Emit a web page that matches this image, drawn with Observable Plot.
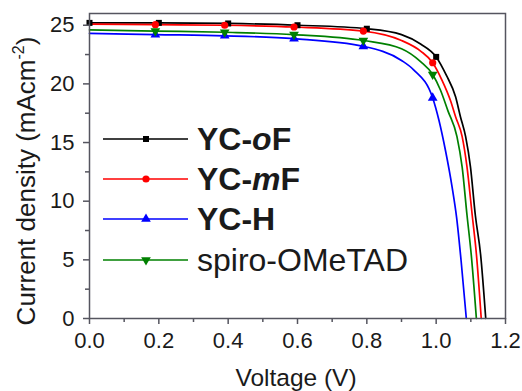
<!DOCTYPE html>
<html><head><meta charset="utf-8">
<script src="https://cdn.jsdelivr.net/npm/d3@7"></script>
<script src="https://cdn.jsdelivr.net/npm/@observablehq/plot@0.6"></script>
<style>body{margin:0;background:#fff} #chart{width:522px;height:391px}</style>
</head><body><div id="chart"></div>
<script>
// ---- data ----
const seriesNames = ["YC-oF", "YC-mF", "YC-H", "spiro-OMeTAD"];
const seriesColors = ["#000000", "#ff0000", "#0000ff", "#008000"];

const vOF = [0, 0.2, 0.4, 0.6, 0.8, 0.9, 0.955, 1.0, 1.03, 1.056, 1.07, 1.085, 1.099, 1.113, 1.128, 1.143];
const jOF = [25.2, 25.2, 25.15, 25.0, 24.7, 24.2, 23.4, 22.3, 20.7, 18.9, 17.2, 15.5, 12.9, 8.8, 5.5, 0];
const markOF = [0, 0.2, 0.4, 0.6, 0.8, 1.0];

const vMF = [0, 0.19, 0.39, 0.59, 0.79, 0.9, 0.955, 0.99, 1.017, 1.041, 1.056, 1.075, 1.089, 1.104, 1.116, 1.13];
const jMF = [25.1, 25.05, 25.0, 24.85, 24.5, 23.7, 22.8, 21.8, 20.3, 18.6, 17.2, 15.5, 12.9, 8.8, 5.5, 0];
const markMF = [0.19, 0.39, 0.59, 0.79, 0.99];

const vH = [0, 0.19, 0.39, 0.59, 0.79, 0.9, 0.935, 0.99, 1.008, 1.027, 1.046, 1.059, 1.072, 1.087];
const jH = [24.3, 24.2, 24.1, 23.85, 23.2, 22.0, 21.2, 18.8, 16.9, 14.3, 11.2, 8.6, 4.9, 0];
const markH = [0.19, 0.39, 0.59, 0.79, 0.99];

const vSpiro = [0, 0.19, 0.39, 0.59, 0.79, 0.9, 0.955, 0.99, 1.012, 1.034, 1.06, 1.075, 1.089, 1.101, 1.116];
const jSpiro = [24.6, 24.5, 24.4, 24.2, 23.7, 23.0, 21.9, 20.8, 19.5, 17.7, 15.5, 12.9, 8.8, 5.5, 0];
const markSpiro = [0.19, 0.39, 0.59, 0.79, 0.99];

const xTicks = [0, 0.2, 0.4, 0.6, 0.8, 1.0, 1.2];
const xMinorTicks = [0.1, 0.3, 0.5, 0.7, 0.9, 1.1];
const yTicks = [0, 5, 10, 15, 20, 25];
const yMinorTicks = [2.5, 7.5, 12.5, 17.5, 22.5];

// ---- build tables ----
const triangleDown = {
  draw(context, size) {
    const y = Math.sqrt(size / (Math.sqrt(3) * 3));
    context.moveTo(0, y * 2);
    context.lineTo(-Math.sqrt(3) * y, -y);
    context.lineTo(Math.sqrt(3) * y, -y);
    context.closePath();
  }
};
const symbols = ["square", "circle", "triangle", triangleDown];
const vs = [vOF, vMF, vH, vSpiro];
const js = [jOF, jMF, jH, jSpiro];
const marks = [markOF, markMF, markH, markSpiro];

const curves = seriesNames.map((name, k) => vs[k].map((v, i) => ({series: name, v, j: js[k][i]})));
const points = seriesNames.map((name, k) => curves[k].filter(d => marks[k].includes(d.v)));

const axisColor = "#55555f";
const order = [0, 1, 2, 3];

const plot = Plot.plot({
  width: 522,
  height: 391,
  marginLeft: 89,
  marginRight: 17,
  marginTop: 13,
  marginBottom: 73,
  style: {fontFamily: "'Liberation Sans', Arial, sans-serif", fontSize: "22px", background: "white", color: "#1a1a1a"},
  x: {domain: [0, 1.2]},
  y: {domain: [0, 26]},
  marks: [
    ...order.map(k => Plot.line(curves[k], {x: "v", y: "j", stroke: seriesColors[k], strokeWidth: 1.7, curve: "monotone-x"})),
    ...order.map(k => Plot.dot(points[k], {x: "v", y: "j", fill: seriesColors[k], symbol: () => symbols[k], r: k === 0 ? 3.4 : 3.6})),
    Plot.frame({stroke: axisColor, strokeWidth: 1.5}),
    Plot.axisX({ticks: xTicks, tickSize: 6, tickPadding: 8, tickFormat: d3.format(".1f"), stroke: axisColor, strokeWidth: 1.5, fill: "#1a1a1a", fontSize: 22, label: null}),
    Plot.axisX({ticks: xMinorTicks, tickSize: 4, tickFormat: () => "", stroke: axisColor, strokeWidth: 1.5, label: null}),
    Plot.axisY({ticks: yTicks, tickSize: 6, tickPadding: 9, stroke: axisColor, strokeWidth: 1.5, fill: "#1a1a1a", fontSize: 22, label: null}),
    Plot.axisY({ticks: yMinorTicks, tickSize: 4, tickFormat: () => "", stroke: axisColor, strokeWidth: 1.5, label: null})
  ]
});

document.getElementById("chart").appendChild(plot);

// ---- titles and legend (non-data decoration) ----
const svg = d3.select(plot);
const font = "'Liberation Sans', Arial, sans-serif";

svg.append("text")
  .attr("x", 296).attr("y", 386)
  .attr("text-anchor", "middle")
  .attr("font-family", font).attr("font-size", 24.5).attr("fill", "#1a1a1a")
  .text("Voltage (V)");

const yt = svg.append("text")
  .attr("transform", "translate(35,181) rotate(-90)")
  .attr("text-anchor", "middle")
  .attr("font-family", font).attr("font-size", 26).attr("fill", "#1a1a1a");
yt.append("tspan").text("Current density (mAcm");
yt.append("tspan").attr("font-size", 16).attr("dy", -11).text("-2");
yt.append("tspan").attr("dy", 11).text(")");

const legendRows = [139, 179, 219, 260];
const legendLabels = [
  [["YC-", false], ["o", true], ["F", false]],
  [["YC-", false], ["m", true], ["F", false]],
  [["YC-H", false]],
  [["spiro-OMeTAD", false]]
];
const lg = svg.append("g").attr("text-anchor", "start");
seriesNames.forEach((name, k) => {
  const y = legendRows[k];
  lg.append("line").attr("x1", 103).attr("x2", 188).attr("y1", y).attr("y2", y)
    .attr("stroke", seriesColors[k]).attr("stroke-width", 1.7);
  const r = k === 0 ? 3.4 : 3.6;
  const sym = k === 0 ? d3.symbolSquare : k === 1 ? d3.symbolCircle : k === 2 ? d3.symbolTriangle : triangleDown;
  lg.append("path").attr("d", d3.symbol(sym, Math.PI * r * r)())
    .attr("transform", `translate(146,${y})`).attr("fill", seriesColors[k]);
  const t = lg.append("text").attr("x", 197).attr("y", y + 11)
    .attr("text-anchor", "start")
    .attr("font-family", font).attr("font-size", 32).attr("fill", "#1a1a1a")
    .attr("font-weight", k < 3 ? "bold" : "normal");
  legendLabels[k].forEach(([s, it]) => {
    const ts = t.append("tspan").text(s);
    if (it) ts.attr("font-style", "italic");
  });
});
</script>
</body></html>
